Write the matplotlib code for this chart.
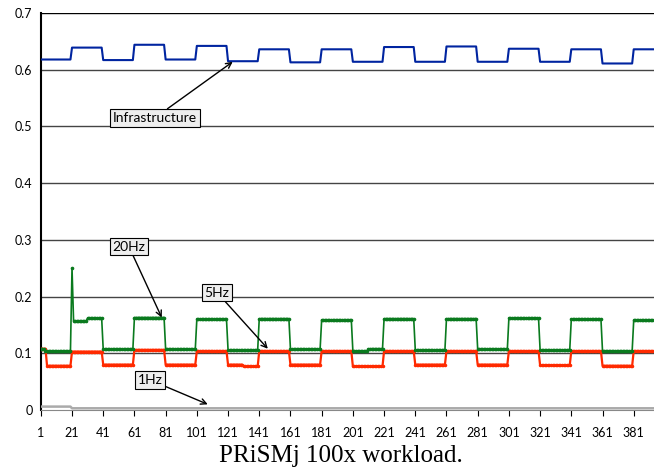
import numpy as np
import matplotlib
matplotlib.use('Agg')
import matplotlib.pyplot as plt

x = np.arange(1, 401)

infra_starts = [1, 21, 41, 61, 81, 101, 121, 141, 161, 181, 201, 221, 241, 261, 281, 301, 321, 341, 361, 381]
infra_levels = [0.618, 0.639, 0.617, 0.644, 0.618, 0.642, 0.615, 0.636, 0.613, 0.636,
                0.614, 0.640, 0.614, 0.641, 0.614, 0.637, 0.614, 0.636, 0.611, 0.636]

hz20_starts = [1, 4, 21, 22, 31, 41, 61, 81, 101, 121, 141, 161, 181, 201, 211,
               221, 241, 261, 281, 301, 321, 341, 361, 381]
hz20_levels = [0.108, 0.104, 0.250, 0.157, 0.162, 0.107, 0.163, 0.107, 0.160, 0.106, 0.161, 0.107,
               0.159, 0.104, 0.108, 0.161, 0.106, 0.161, 0.107, 0.162, 0.106, 0.160, 0.104, 0.158]

hz5_starts = [1, 5, 21, 41, 61, 81, 101, 121, 131, 141, 161, 181, 201, 221, 241,
              261, 281, 301, 321, 341, 361, 381]
hz5_levels = [0.108, 0.078, 0.103, 0.080, 0.106, 0.080, 0.104, 0.080, 0.077, 0.104, 0.080,
              0.104, 0.077, 0.104, 0.080, 0.104, 0.080, 0.104, 0.079, 0.104, 0.078, 0.104]

hz1_starts = [1, 21]
hz1_levels = [0.006, 0.003]

xticks = list(range(1, 400, 20))
yticks = [0, 0.1, 0.2, 0.3, 0.4, 0.5, 0.6, 0.7]


def steps(starts, levels):
    idx = np.searchsorted(starts, x, side='right') - 1
    return np.array(levels)[idx]


infra = steps(infra_starts, infra_levels)
hz20 = steps(hz20_starts, hz20_levels)
hz5 = steps(hz5_starts, hz5_levels)
hz1 = steps(hz1_starts, hz1_levels)

plt.rcParams['font.family'] = ['Lato', 'DejaVu Sans']

fig = plt.figure(figsize=(6.54, 4.73), dpi=100)
ax = fig.add_axes([0.0624, 0.1332, 0.9376, 0.8393])

for y in yticks[1:]:
    ax.axhline(y, color='#444444' if y < 0.7 else 'black', lw=1.0, zorder=1)

ax.plot(x, hz1, color='#aaaaaa', lw=1.8, zorder=3)
ax.plot(x, hz5, color='#ff2a00', lw=1.6, marker='o', ms=1.5, zorder=4)
ax.plot(x, hz20, color='#0a7a1e', lw=1.2, marker='o', ms=1.6, zorder=5)
ax.plot(x, infra, color='#0024a0', lw=1.5, zorder=5)

ax.set_xlim(1, 394)
ax.set_ylim(0, 0.7)
ax.set_xticks(xticks)
ax.set_xticklabels([str(t) for t in xticks])
ax.set_yticks(yticks)
ax.set_yticklabels(['0', '0.1', '0.2', '0.3', '0.4', '0.5', '0.6', '0.7'])
ax.tick_params(axis='x', direction='out', length=4, width=0.8, labelsize=9, pad=8)
ax.tick_params(axis='y', length=0, labelsize=9, pad=6)

for s in ['top', 'right']:
    ax.spines[s].set_visible(False)
ax.spines['left'].set_linewidth(1.5)
ax.spines['bottom'].set_color('#888888')

box = dict(boxstyle='square,pad=0.2', fc='#eeeeee', ec='black', lw=0.8)
arrow = dict(arrowstyle='->', color='black', lw=1.0, shrinkA=0, shrinkB=0)
ax.annotate('Infrastructure', xy=(124, 0.614), xytext=(74, 0.515), ha='center', va='center',
            fontsize=10, bbox=box, arrowprops=arrow, zorder=6)
ax.annotate('20Hz', xy=(78.5, 0.163), xytext=(57.5, 0.288), ha='center', va='center',
            fontsize=10, bbox=box, arrowprops=arrow, zorder=6)
ax.annotate('5Hz', xy=(146.5, 0.108), xytext=(114, 0.207), ha='center', va='center',
            fontsize=10, bbox=box, arrowprops=arrow, zorder=6)
ax.annotate('1Hz', xy=(108, 0.010), xytext=(71, 0.053), ha='center', va='center',
            fontsize=10, bbox=box, arrowprops=arrow, zorder=6)

fig.text(0.521, 0.036, 'PRiSMj 100x workload.', ha='center', va='center',
         fontsize=18, family='Liberation Serif')

fig.savefig('out.png', dpi=100)
